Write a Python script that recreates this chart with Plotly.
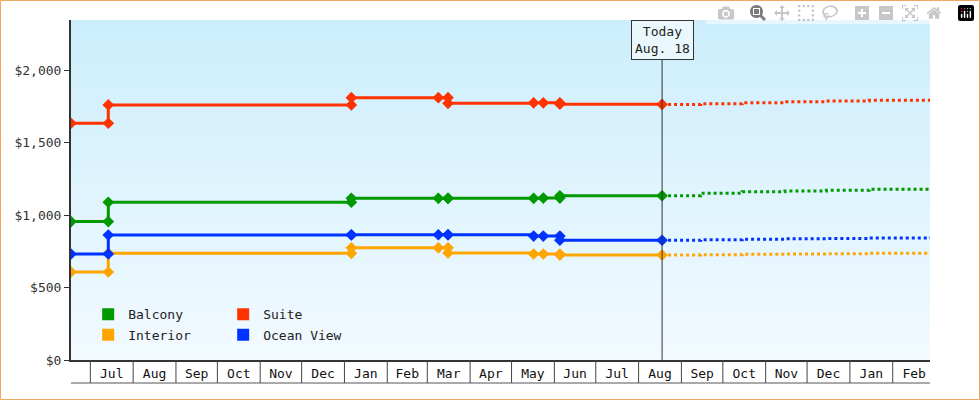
import plotly.graph_objects as go
import pandas as pd

names = ["Balcony", "Suite", "Interior", "Ocean View"]
colors = ["#009900", "#ff3300", "#ffa500", "#0033ff"]

dates = ["2023-06-17", "2023-07-14", "2023-07-14", "2024-01-06", "2024-01-06", "2024-03-09", "2024-03-16", "2024-03-16",
         "2024-05-17", "2024-05-24", "2024-06-05", "2024-06-05", "2024-08-18"]
balcony = [955, 955, 1088, 1088, 1115, 1115, 1115, 1115, 1115, 1117, 1117, 1133, 1133]
suite = [1633, 1633, 1759, 1759, 1809, 1809, 1809, 1770, 1774, 1774, 1774, 1764, 1763]
interior = [607, 607, 736, 736, 774, 774, 774, 738, 731, 731, 731, 724, 724]
ocean = [731, 731, 862, 862, 864, 864, 864, 864, 855, 855, 855, 826, 826]

f_dates = ["2024-08-18", "2024-09-15", "2024-10-15", "2024-11-15", "2024-12-15", "2025-01-15", "2025-02-28"]
f_balcony = [1133, 1150, 1160, 1165, 1170, 1178, 1185]
f_suite = [1763, 1768, 1775, 1782, 1787, 1792, 1795]
f_interior = [724, 726, 729, 731, 733, 737, 740]
f_ocean = [826, 829, 833, 836, 838, 842, 845]

series = [balcony, suite, interior, ocean]
fseries = [f_balcony, f_suite, f_interior, f_ocean]
today = "2024-08-18"
x_start, x_end = "2023-06-17", "2025-02-28"
font = "DejaVu Sans Mono"

fig = go.Figure()
for n, c, s, fs in zip(names, colors, series, fseries):
    fig.add_trace(go.Scatter(x=dates, y=s, mode="lines+markers", line=dict(color=c, width=3, shape="hv"),
                             marker=dict(symbol="diamond", size=9, color=c), showlegend=False, name=n))
    fig.add_trace(go.Scatter(x=f_dates, y=fs, mode="lines", line=dict(color=c, width=3, dash="dot", shape="hv"),
                             showlegend=False, hoverinfo="skip"))
for i, (n, c) in enumerate(zip(names, colors)):
    fig.add_trace(go.Scatter(x=[None], y=[None], mode="markers", name=n,
                             marker=dict(symbol="square", size=12, color=c),
                             legend="legend" if i < 2 else "legend2"))

L, R, T, B = 71, 50, 20, 40
W, H = 980, 400
pw, ph = W - L - R, H - T - B
shapes = []
nb = 120
top, bot = (204, 238, 252), (242, 250, 255)
for i in range(nb):
    t = i / (nb - 1)
    col = tuple(round(top[k] + (bot[k] - top[k]) * t) for k in range(3))
    shapes.append(dict(type="rect", xref="paper", yref="paper", x0=0, x1=1, y0=max(0, 1 - (i + 1.6) / nb), y1=1 - i / nb,
                       fillcolor="rgb(%d,%d,%d)" % col, line=dict(width=0), layer="below"))
for d in pd.date_range("2023-07-01", x_end, freq="MS"):
    shapes.append(dict(type="line", xref="x", yref="paper", x0=d, x1=d, y0=-23 / ph, y1=0,
                       line=dict(color="#444", width=1)))
shapes.append(dict(type="line", xref="x", yref="paper", x0=today, x1=today, y0=0, y1=(H - B - 60) / ph,
                   line=dict(color="#333", width=1)))
shapes.append(dict(type="line", xref="paper", yref="paper", x0=0, x1=1, y0=-23 / ph, y1=-23 / ph,
                   line=dict(color="#555", width=1)))
shapes.append(dict(type="rect", xref="paper", yref="paper", x0=-(L - 0.5) / pw, x1=1 + (R - 0.5) / pw,
                   y0=-(B - 0.5) / ph, y1=1 + (T - 0.5) / ph, line=dict(color="#f0a860", width=1)))

fig.update_layout(
    width=W, height=H, margin=dict(l=L, r=R, t=T, b=B),
    paper_bgcolor="white", plot_bgcolor="rgba(0,0,0,0)",
    font=dict(family=font, size=13, color="#222"),
    shapes=shapes,
    xaxis=dict(type="date", range=[x_start, x_end], dtick="M1", tick0="2023-07-01",
               ticklabelmode="period", tickformat="%b", ticks="", ticklabelstandoff=0,
               showgrid=False, showline=True, linecolor="#333", linewidth=2, zeroline=False,
               tickfont=dict(size=13, color="#111")),
    yaxis=dict(range=[0, 2345], tickvals=[0, 500, 1000, 1500, 2000],
               ticktext=["$0", "$500", "$1,000", "$1,500", "$2,000"], ticks="outside", ticklen=5,
               tickcolor="#333", showgrid=False, showline=True, linecolor="#333", linewidth=2, zeroline=False,
               tickfont=dict(size=13, color="#333")),
    legend=dict(orientation="h", x=0.02, y=0.09, xanchor="left", yanchor="bottom", bgcolor="rgba(0,0,0,0)",
                entrywidth=90, itemwidth=30, font=dict(size=13)),
    legend2=dict(orientation="h", x=0.02, y=0.03, xanchor="left", yanchor="bottom", bgcolor="rgba(0,0,0,0)",
                 entrywidth=90, itemwidth=30, font=dict(size=13)),
    annotations=[dict(x=today, xref="x", y=1 + (T - 20) / ph, yref="paper", yanchor="top",
                      text="Today<br>Aug. 18", showarrow=False, bgcolor="#eaf8fd", bordercolor="#333",
                      borderwidth=1, borderpad=3, font=dict(size=13))],
)
fig.write_html("out.html", post_script="document.body.style.margin='0';document.body.style.overflow='hidden';")
